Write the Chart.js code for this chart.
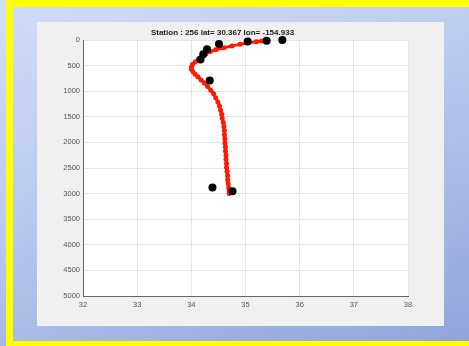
<!DOCTYPE html>
<html>
<head>
<meta charset="utf-8">
<script src="https://cdn.jsdelivr.net/npm/chart.js@4"></script>
<style>
    html, body { margin: 0; padding: 0; }
    body {
        width: 469px;
        height: 346px;
        overflow: hidden;
        position: relative;
        background: linear-gradient(160deg, #d3dff9 0%, #b9c8ee 45%, #9fb3e2 75%, #8ea4d9 100%);
    }
    #frame {
        position: absolute;
        left: 6px;
        top: 0;
        width: 456px;
        height: 334px;
        border-top: 7px solid #ffff00;
        border-left: 7px solid #ffff00;
        border-bottom: 5px solid #ffff00;
        border-right: 0;
        background: linear-gradient(160deg, #cfdbf7 0%, #bccaef 40%, #a2b5e3 75%, #90a5d9 100%);
    }
    #panel {
        position: absolute;
        left: 37px;
        top: 22px;
        width: 407px;
        height: 304px;
        background: #f0f0f0;
    }
    #panel canvas { display: block; }
</style>
</head>
<body>
<div id="frame"></div>
<div id="panel"><canvas id="profileChart" width="407" height="304"></canvas></div>

<script>
// ---------------- Datos ----------------

const chartTitle = 'Station : 256 lat= 30.367 lon= -154.933';

// perfil continuo (rojo)
const profileSalinity = [
    35.38, 35.30, 35.20, 35.05, 34.90, 34.75, 34.60, 34.45, 34.35, 34.27,
    34.20, 34.13, 34.07, 34.02, 34.00, 34.00, 34.03, 34.07, 34.12, 34.18,
    34.24, 34.30, 34.36, 34.41, 34.45, 34.49, 34.52, 34.54, 34.56, 34.57,
    34.59, 34.60, 34.61, 34.61, 34.62, 34.62, 34.63, 34.63, 34.64, 34.64,
    34.65, 34.65, 34.66, 34.67, 34.67, 34.68, 34.69, 34.70, 34.70
];
const profileDepth = [
    5, 20, 35, 55, 85, 115, 150, 190, 225, 270,
    320, 380, 430, 480, 530, 570, 620, 670, 720, 780,
    840, 910, 980, 1050, 1130, 1210, 1290, 1370, 1450, 1530,
    1610, 1690, 1770, 1850, 1930, 2010, 2090, 2170, 2250, 2330,
    2410, 2490, 2570, 2650, 2730, 2810, 2890, 2960, 3000
];

// muestras de botella (negro)
const bottleSalinity = [35.68, 35.39, 35.04, 34.51, 34.29, 34.22, 34.17, 34.34, 34.39, 34.76];
const bottleDepth = [0, 15, 30, 80, 180, 280, 380, 790, 2880, 2955];

const xTicks = [32, 33, 34, 35, 36, 37, 38];
const yTicks = [0, 500, 1000, 1500, 2000, 2500, 3000, 3500, 4000, 4500, 5000];

// ---------------- Helpers ----------------

function toPoints(xs, ys) {
    return xs.map((x, i) => ({ x, y: ys[i] }));
}

// fondo blanco del área de la gráfica
const plotBackground = {
    id: 'plotBackground',
    beforeDraw(chart) {
        const { ctx, chartArea: a } = chart;
        ctx.save();
        ctx.fillStyle = '#ffffff';
        ctx.fillRect(a.left, a.top, a.right - a.left, a.bottom - a.top);
        ctx.restore();
    }
};

// ---------------- Gráfica ----------------

const tickFont = { family: 'Liberation Sans, Arial, sans-serif', size: 7.5 };

new Chart(document.getElementById('profileChart'), {
    type: 'scatter',
    data: {
        datasets: [
            {
                label: 'bottles',
                data: toPoints(bottleSalinity, bottleDepth),
                showLine: false,
                pointRadius: 4,
                pointBackgroundColor: '#000000',
                pointBorderWidth: 0,
                clip: false
            },
            {
                label: 'profile',
                data: toPoints(profileSalinity, profileDepth),
                showLine: true,
                borderColor: '#ff1a00',
                borderWidth: 3,
                pointRadius: 2.5,
                pointBackgroundColor: '#ff1a00',
                pointBorderWidth: 0,
                tension: 0,
                clip: false
            }
        ]
    },
    options: {
        responsive: false,
        animation: false,
        layout: { padding: { left: 0, right: 36, top: 0, bottom: 0 } },
        plugins: {
            legend: { display: false },
            tooltip: { enabled: false },
            title: {
                display: true,
                text: chartTitle,
                color: '#222222',
                font: { family: 'Liberation Sans, Arial, sans-serif', size: 8, weight: 'bold' },
                padding: { top: 5.5, bottom: 2.9 }
            }
        },
        scales: {
            x: {
                type: 'linear',
                min: xTicks[0],
                max: xTicks[xTicks.length - 1],
                afterBuildTicks: s => { s.ticks = xTicks.map(v => ({ value: v })); },
                afterFit: s => { s.height = 30; },
                ticks: { color: '#555555', font: tickFont, padding: 4, maxRotation: 0, callback: v => String(v) },
                grid: { color: '#e6e6e6', drawTicks: false },
                border: { color: '#666666', width: 1 }
            },
            y: {
                type: 'linear',
                reverse: true,
                min: yTicks[0],
                max: yTicks[yTicks.length - 1],
                afterBuildTicks: s => { s.ticks = yTicks.map(v => ({ value: v })); },
                afterFit: s => { s.width = 46; },
                ticks: { color: '#555555', font: tickFont, padding: 3, callback: v => String(v) },
                grid: { color: '#e6e6e6', drawTicks: false },
                border: { color: '#666666', width: 1 }
            }
        }
    },
    plugins: [plotBackground]
});
</script>
</body>
</html>
